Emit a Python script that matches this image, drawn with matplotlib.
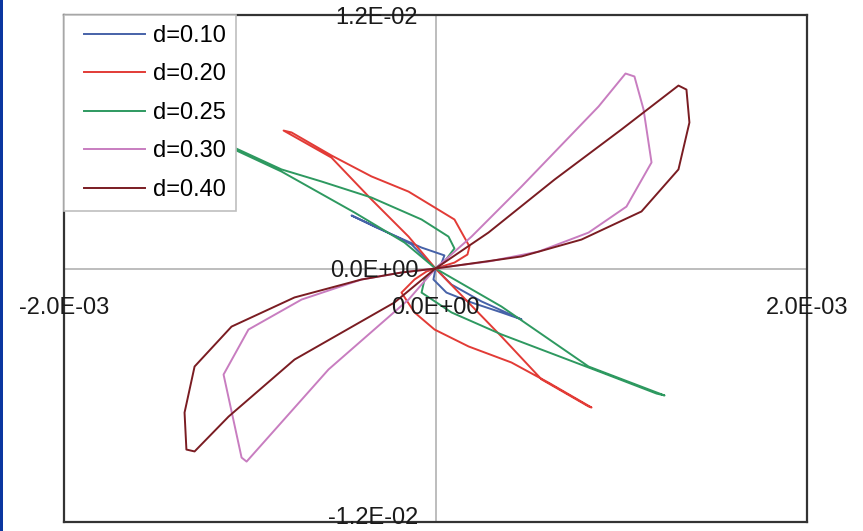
import numpy as np
import matplotlib
matplotlib.use("Agg")
import matplotlib.pyplot as plt
from matplotlib.patches import Rectangle
from matplotlib.legend_handler import HandlerLine2D
from matplotlib.lines import Line2D

plt.rcParams['font.family'] = ['Liberation Sans', 'DejaVu Sans']

# ---- data (x in units of 1e-3, y in units of 1e-3) ----
labels = ["d=0.10", "d=0.20", "d=0.25", "d=0.30", "d=0.40"]
colors = ["#4662A8", "#E23B36", "#2E9960", "#C87DC0", "#7A1C22"]

x_d010 = [0, -0.011, 0.059, 0.194, 0.355, 0.463, 0.248, 0.086, 0, -0.129, -0.291, -0.452, -0.318, -0.075, 0.048, 0.032, 0]
y_d010 = [0, -0.52, -1.14, -1.61, -2.08, -2.41, -1.56, -0.76, 0, 1.14, 1.85, 2.51, 1.94, 0.99, 0.62, 0.24, 0]

x_d020 = [0, 0.355, 0.571, 0.824, 0.840, 0.608, 0.409, 0.178, -0.005, -0.113, -0.183, -0.113, -0.048, 0,
          -0.145, -0.345, -0.560, -0.818, -0.775, -0.560, -0.345, -0.145, 0.102, 0.183, 0.172, 0.102, 0]
y_d020 = [0, -3.22, -5.25, -6.53, -6.58, -5.40, -4.45, -3.69, -2.89, -2.08, -1.14, -0.52, -0.14, 0,
          1.51, 3.27, 5.25, 6.53, 6.44, 5.35, 4.36, 3.64, 2.32, 1.04, 0.66, 0.28, 0]

x_d025 = [0, 0.355, 0.824, 1.233, 1.190, 0.894, 0.355, 0.086, -0.075, -0.059, 0,
          -0.167, -0.436, -0.829, -1.163, -1.098, -0.829, -0.614, -0.345, -0.075, 0.070, 0.102, 0.048, 0]
y_d025 = [0, -1.80, -4.64, -6.01, -5.92, -4.92, -3.12, -2.08, -1.14, -0.52, 0,
          1.23, 2.65, 4.59, 5.96, 5.78, 4.69, 4.12, 3.36, 2.32, 1.51, 0.95, 0.33, 0]

x_d030 = [0, 0.194, 0.463, 0.878, 1.023, 1.071, 1.120, 1.163, 1.028, 0.824, 0.555, 0.285, 0.070, 0,
          -0.145, -0.576, -1.017, -1.044, -1.141, -1.007, -0.721, -0.398, -0.183, 0]
y_d030 = [0, 1.51, 3.88, 7.67, 9.23, 9.09, 7.53, 5.02, 2.93, 1.70, 0.80, 0.33, 0.09, 0,
          -1.47, -4.78, -9.14, -8.95, -5.02, -2.89, -1.47, -0.52, -0.19, 0]

x_d040 = [0, 0.285, 0.641, 1.001, 1.308, 1.351, 1.367, 1.308, 1.109, 0.786, 0.463, 0.156, 0,
          -0.221, -0.759, -1.114, -1.297, -1.341, -1.351, -1.297, -1.098, -0.759, -0.398, -0.183, 0]
y_d040 = [0, 1.70, 4.21, 6.58, 8.66, 8.47, 6.91, 4.69, 2.70, 1.37, 0.57, 0.19, 0,
          -1.61, -4.31, -7.01, -8.66, -8.57, -6.82, -4.64, -2.75, -1.37, -0.52, -0.19, 0]

xs = [x_d010, x_d020, x_d025, x_d030, x_d040]
ys = [y_d010, y_d020, y_d025, y_d030, y_d040]

xticks = [-2.0e-3, 0.0, 2.0e-3]
yticks = [-1.2e-2, 0.0, 1.2e-2]

# ---- figure ----
fig = plt.figure(figsize=(8.63, 5.31), dpi=100)
fig.patch.set_facecolor("white")
fig.patches.append(Rectangle((0, 0), 3 / 863, 1, transform=fig.transFigure,
                             facecolor="#0A36A0", edgecolor="none", zorder=0))

ax = fig.add_axes([64 / 863, 9 / 531, 743 / 863, 507 / 531])
ax.set_xlim(xticks[0], xticks[-1])
ax.set_ylim(yticks[0], yticks[-1])

ax.axhline(0, color="#BDBDBD", lw=1.4, zorder=1)
ax.axvline(0, color="#BDBDBD", lw=1.4, zorder=1)

for x, y, c, lab in zip(xs, ys, colors, labels):
    ax.plot(np.array(x) * 1e-3, np.array(y) * 1e-3, color=c, lw=1.4, label=lab, zorder=3)

ax.set_xticks([])
ax.set_yticks([])
for s in ax.spines.values():
    s.set_color("#333333")
    s.set_linewidth(1.6)

fs = 17
for xt in xticks:
    ax.annotate(f"{xt:.1E}", xy=(xt, 0), xytext=(0, -28.5), textcoords="offset points",
                ha="center", va="center", fontsize=fs, color="#1a1a1a",
                annotation_clip=False, zorder=5)
for yt in yticks:
    if yt > 0:
        dy = -2.0
    elif yt < 0:
        dy = 3.0
    else:
        dy = -1.5
    ax.annotate(f"{yt:.1E}", xy=(0, yt), xytext=(-12.5, dy),
                textcoords="offset points",
                ha="right", va="center", fontsize=fs, color="#1a1a1a",
                annotation_clip=False, zorder=5)

leg = ax.legend(loc="upper left", bbox_to_anchor=(0, 1), borderaxespad=0,
                fancybox=False, framealpha=1, edgecolor="#BFBFBF",
                fontsize=17, handlelength=3.0, handletextpad=0.34,
                labelspacing=0.70, borderpad=0.42,
                handler_map={Line2D: HandlerLine2D(xpad=0.41)})
leg.get_frame().set_linewidth(1.2)
leg.set_zorder(4)

fig.savefig("out.png", dpi=100)
